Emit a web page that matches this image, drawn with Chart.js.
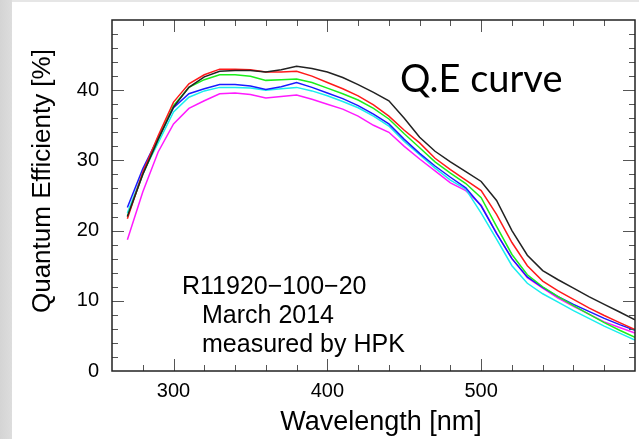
<!DOCTYPE html>
<html>
<head>
<meta charset="utf-8">
<script src="https://cdn.jsdelivr.net/npm/chart.js@4.4.1/dist/chart.umd.min.js"></script>
<style>
  html, body { margin: 0; padding: 0; background: #fff; overflow: hidden; }
  #wrap { position: relative; width: 639px; height: 439px; }
</style>
</head>
<body>
<div id="wrap"><canvas id="qe"></canvas></div>
<script>
// Q.E curves of six PMTs, R11920-100-20
const wavelengths = [270, 280, 290, 300, 310, 320, 330, 340, 350, 360, 370, 380, 390, 400, 410, 420, 430,
  440, 450, 460, 470, 480, 490, 500, 510, 520, 530, 540, 550, 560, 570, 580, 590, 600];

const qeBlack = [22.0, 28.0, 33.0, 37.6, 40.4, 41.9, 42.7, 42.8, 42.8, 42.6, 42.9, 43.4, 43.1, 42.6, 41.8, 40.8, 39.7,
  38.5, 36.0, 33.3, 31.3, 29.8, 28.4, 27.0, 24.3, 20.0, 16.5, 14.3, 13.0, 11.8, 10.6, 9.5, 8.4, 7.3];
const qeRed = [21.7, 28.3, 33.5, 38.3, 40.9, 42.2, 43.0, 43.0, 42.9, 42.6, 42.6, 42.7, 42.0, 41.1, 40.2, 39.2, 37.9,
  36.3, 34.3, 32.5, 30.3, 28.7, 27.2, 25.7, 22.3, 18.3, 15.0, 12.8, 11.4, 10.2, 9.0, 7.9, 6.9, 5.9];
const qeGreen = [22.0, 28.0, 33.0, 37.8, 40.4, 41.5, 42.2, 42.2, 42.0, 41.4, 41.5, 41.6, 41.1, 40.3, 39.5, 38.6, 37.4,
  35.9, 33.8, 31.8, 29.8, 28.2, 26.7, 24.7, 20.6, 16.6, 13.7, 12.0, 10.6, 9.3, 8.1, 6.9, 5.8, 4.8];
const qeBlue = [23.3, 28.8, 33.2, 37.5, 39.5, 40.2, 40.8, 40.8, 40.6, 40.1, 40.5, 41.1, 40.4, 39.6, 38.8, 37.8, 36.6,
  35.2, 33.0, 31.0, 29.2, 27.6, 26.1, 23.5, 19.6, 16.0, 13.4, 11.9, 10.6, 9.5, 8.5, 7.5, 6.6, 5.8];
const qeCyan = [22.5, 28.2, 32.5, 36.9, 39.0, 39.9, 40.4, 40.4, 40.3, 40.0, 40.2, 40.4, 39.9, 39.2, 38.4, 37.5, 36.3,
  34.9, 32.7, 30.8, 28.9, 27.2, 25.9, 22.5, 18.8, 15.0, 12.5, 11.0, 9.8, 8.6, 7.5, 6.4, 5.4, 4.4];
const qeMagenta = [18.7, 25.5, 31.2, 35.2, 37.4, 38.5, 39.5, 39.6, 39.4, 38.9, 39.1, 39.3, 38.7, 38.0, 37.3, 36.3, 35.0,
  34.0, 32.0, 30.2, 28.5, 26.8, 25.7, 23.6, 19.6, 16.0, 13.3, 11.8, 10.4, 9.2, 8.1, 7.0, 6.2, 5.4];

const xTickLabels = [300, 400, 500];
const yTickLabels = [0, 10, 20, 30, 40];
const noteLines = ['R11920\u2212100\u221220', 'March 2014', 'measured by HPK'];

const series = [
  { name: 'black', data: qeBlack, color: '#222222' },
  { name: 'red', data: qeRed, color: '#ff1a1a' },
  { name: 'green', data: qeGreen, color: '#1aee1a' },
  { name: 'blue', data: qeBlue, color: '#1a1aff' },
  { name: 'cyan', data: qeCyan, color: '#1aeeee' },
  { name: 'magenta', data: qeMagenta, color: '#ff1aff' },
];

// background panel, inward ticks, frame and the text notes
const framePlugin = {
  id: 'frame',
  beforeDraw(chart) {
    const { ctx, width, height } = chart;
    ctx.save();
    ctx.fillStyle = '#e6e6e6';
    ctx.fillRect(0, 0, width, height);
    const g = ctx.createLinearGradient(0, 0, 12, 0);
    g.addColorStop(0, '#d4d4d4');
    g.addColorStop(1, '#dddddd');
    ctx.fillStyle = g;
    ctx.fillRect(0, 0, 12, height);
    ctx.fillStyle = '#ffffff';
    ctx.fillRect(12, 2, width - 12, height - 2);
    ctx.restore();
  },
  afterDraw(chart) {
    const { ctx, chartArea: a, scales: { x, y } } = chart;
    ctx.save();
    ctx.strokeStyle = '#555';
    ctx.lineWidth = 1;
    ctx.beginPath();
    for (let v = x.min + 20; v < x.max; v += 20) {
      const px = Math.round(x.getPixelForValue(v)) + 0.5;
      const len = v % 100 === 0 ? 12 : 6;
      ctx.moveTo(px, a.bottom); ctx.lineTo(px, a.bottom - len);
      ctx.moveTo(px, a.top); ctx.lineTo(px, a.top + len);
    }
    for (let v = y.min + 2; v < y.max; v += 2) {
      const py = Math.round(y.getPixelForValue(v)) + 0.5;
      const len = v % 10 === 0 ? 12 : 6;
      ctx.moveTo(a.left, py); ctx.lineTo(a.left + len, py);
      ctx.moveTo(a.right, py); ctx.lineTo(a.right - len, py);
    }
    ctx.stroke();

    ctx.strokeStyle = '#222';
    ctx.lineWidth = 1.5;
    ctx.strokeRect(a.left, a.top, a.right - a.left, a.bottom - a.top);

    ctx.fillStyle = '#000';
    ctx.textBaseline = 'alphabetic';
    ctx.textAlign = 'left';
    ctx.font = '38px Lato';
    ctx.fillText('Q.E curve', 400, 92);

    ctx.font = '25px "Liberation Sans"';
    ctx.fillText(noteLines[0], 182, 294);
    ctx.fillText(noteLines[1], 202, 323);
    ctx.fillText(noteLines[2], 202, 352);
    ctx.restore();
  }
};

const tickFont = { family: '"Liberation Sans", Arial, sans-serif', size: 20 };

// drop the label overflow padding so the plot box sits where layout.padding says
function noScalePadding(s) {
  s.paddingTop = 0;
  s.paddingBottom = 0;
  s.paddingLeft = 0;
  s.paddingRight = 0;
}

new Chart(document.getElementById('qe'), {
  type: 'line',
  data: {
    datasets: series.map(s => ({
      label: s.name,
      data: wavelengths.map((w, i) => ({ x: w, y: s.data[i] })),
      borderColor: s.color,
      borderWidth: 1.5,
      pointRadius: 0,
      tension: 0,
      fill: false,
    }))
  },
  options: {
    responsive: true,
    maintainAspectRatio: false,
    devicePixelRatio: 1,
    animation: false,
    layout: { padding: { top: 20, right: 4, left: 0, bottom: 0 } },
    plugins: { legend: { display: false }, tooltip: { enabled: false } },
    scales: {
      x: {
        type: 'linear',
        min: 260,
        max: 600,
        afterFit: s => { s.height = 68; noScalePadding(s); },
        afterBuildTicks: s => { s.ticks = xTickLabels.map(v => ({ value: v })); },
        grid: { display: false, drawTicks: false },
        border: { display: false },
        ticks: { font: tickFont, color: '#000', padding: 8, maxRotation: 0 },
        title: {
          display: true,
          text: '\u00a0\u00a0Wavelength [nm]',
          font: { family: '"Liberation Sans", Arial, sans-serif', size: 27, lineHeight: 1.2 },
          color: '#000',
          padding: { top: 0, bottom: 0 }
        }
      },
      y: {
        type: 'linear',
        min: 0,
        max: 50,
        afterFit: s => { s.width = 112; noScalePadding(s); },
        afterBuildTicks: s => { s.ticks = yTickLabels.map(v => ({ value: v })); },
        grid: { display: false, drawTicks: false },
        border: { display: false },
        ticks: { font: tickFont, color: '#000', padding: 13 },
        title: {
          display: true,
          text: '\u00a0\u00a0\u00a0\u00a0Quantum Efficienty [%]',
          font: { family: '"Liberation Sans", Arial, sans-serif', size: 26, lineHeight: 1.2 },
          color: '#000',
          padding: { top: 27, bottom: 0 }
        }
      }
    }
  },
  plugins: [framePlugin]
});
</script>
</body>
</html>
